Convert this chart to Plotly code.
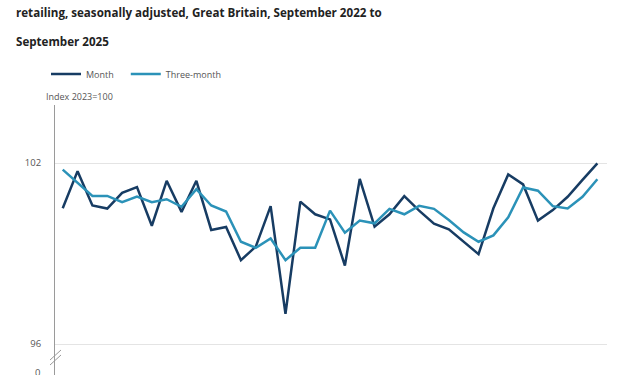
import plotly.graph_objects as go

months = ["Sep 2022","Oct 2022","Nov 2022","Dec 2022","Jan 2023","Feb 2023","Mar 2023","Apr 2023",
          "May 2023","Jun 2023","Jul 2023","Aug 2023","Sep 2023","Oct 2023","Nov 2023","Dec 2023",
          "Jan 2024","Feb 2024","Mar 2024","Apr 2024","May 2024","Jun 2024","Jul 2024","Aug 2024",
          "Sep 2024","Oct 2024","Nov 2024","Dec 2024","Jan 2025","Feb 2025","Mar 2025","Apr 2025",
          "May 2025","Jun 2025","Jul 2025","Aug 2025","Sep 2025"]

month_values = [100.50, 101.73, 100.59, 100.49, 101.01, 101.20, 99.92, 101.41, 100.38, 101.41,
                99.78, 99.88, 98.78, 99.23, 100.57, 97.00, 100.72, 100.30, 100.13, 98.60,
                101.47, 99.89, 100.30, 100.90, 100.42, 99.99, 99.80, 99.39, 98.98, 100.50,
                101.62, 101.29, 100.09, 100.44, 100.88, 101.44, 101.99]

three_month_values = [101.78, 101.35, 100.91, 100.91, 100.70, 100.89, 100.70, 100.80, 100.55, 101.13,
                      100.59, 100.39, 99.39, 99.19, 99.50, 98.78, 99.19, 99.19, 100.42, 99.69,
                      100.09, 100.00, 100.48, 100.30, 100.58, 100.48, 100.11, 99.70, 99.39, 99.60,
                      100.20, 101.19, 101.08, 100.57, 100.49, 100.88, 101.46]

y_tick_values = [96, 102]
y_tick_labels = ["96", "102"]

series_names = ["Month", "Three-month"]
title_line1 = "retailing, seasonally adjusted, Great Britain, September 2022 to"
title_line2 = "September 2025"
axis_title = "Index 2023=100"

DARK = "#173c63"
TEAL = "#2b92b8"
FONT = "Open Sans, sans-serif"
PAD = "\u00a0\u00a0\u00a0"

x_idx = list(range(len(months)))

fig = go.Figure()
fig.add_trace(go.Scatter(x=x_idx, y=month_values, mode="lines", name=series_names[0] + PAD,
                         line=dict(color=DARK, width=2.5), text=months,
                         hovertemplate="%{text}: %{y}<extra>Month</extra>"))
fig.add_trace(go.Scatter(x=x_idx, y=three_month_values, mode="lines", name=series_names[1],
                         line=dict(color=TEAL, width=2.5), text=months,
                         hovertemplate="%{text}: %{y}<extra>Three-month</extra>"))

W, H = 634, 375
L, R, T, B = 55, 27, 105, 0
ph = H - T - B
pw = W - L - R


def py2p(py):
    return 1 - (py - T) / ph


def px2p(pxv):
    return (pxv - L) / pw


fig.update_layout(
    width=W, height=H,
    margin=dict(l=L, r=R, t=T, b=B, autoexpand=False),
    paper_bgcolor="white", plot_bgcolor="white",
    font=dict(family=FONT, size=9.5, color="#555555"),
    showlegend=True,
    legend=dict(orientation="h", x=px2p(46), xanchor="left",
                y=py2p(74), yanchor="middle",
                font=dict(family=FONT, size=9, color="#555555"),
                bgcolor="rgba(0,0,0,0)", itemwidth=30, tracegroupgap=0),
    xaxis=dict(range=[-0.52, 36.65], showgrid=False, zeroline=False, showline=False,
               showticklabels=False, ticks=""),
    yaxis=dict(range=[96 - 31 / 30.17, 102 + 58 / 30.17], tickvals=y_tick_values, ticktext=y_tick_labels,
               showgrid=True, gridcolor="#e4e4e4", gridwidth=1, zeroline=False,
               showline=True, linecolor="#9a9a9a", linewidth=1,
               ticks="", ticklabelstandoff=11,
               tickfont=dict(family=FONT, size=9.5, color="#555555")),
    hovermode="x unified",
)

annotations = [
    dict(text="<b>" + title_line1 + "</b>", x=px2p(14), y=py2p(13),
         xanchor="left", yanchor="middle", font=dict(family=FONT, size=11.6, color="#222222")),
    dict(text="<b>" + title_line2 + "</b>", x=px2p(14), y=py2p(41),
         xanchor="left", yanchor="middle", font=dict(family=FONT, size=11.6, color="#222222")),
    dict(text=axis_title, x=px2p(44), y=py2p(97),
         xanchor="left", yanchor="middle", font=dict(family=FONT, size=9, color="#555555")),
    dict(text="0", x=px2p(42), y=py2p(372),
         xanchor="right", yanchor="middle", font=dict(family=FONT, size=9.5, color="#555555")),
]
for a in annotations:
    a.update(xref="paper", yref="paper", showarrow=False)
fig.update_layout(annotations=annotations)

# axis break marks
for dy in (0, 5):
    fig.add_shape(type="line", xref="paper", yref="paper",
                  x0=px2p(50), y0=py2p(360 + dy),
                  x1=px2p(61), y1=py2p(350 + dy),
                  line=dict(color="#9a9a9a", width=1))

fig.write_html("out.html", config={"displayModeBar": False},
               post_script="document.body.style.margin='0';document.body.style.overflow='hidden';")
